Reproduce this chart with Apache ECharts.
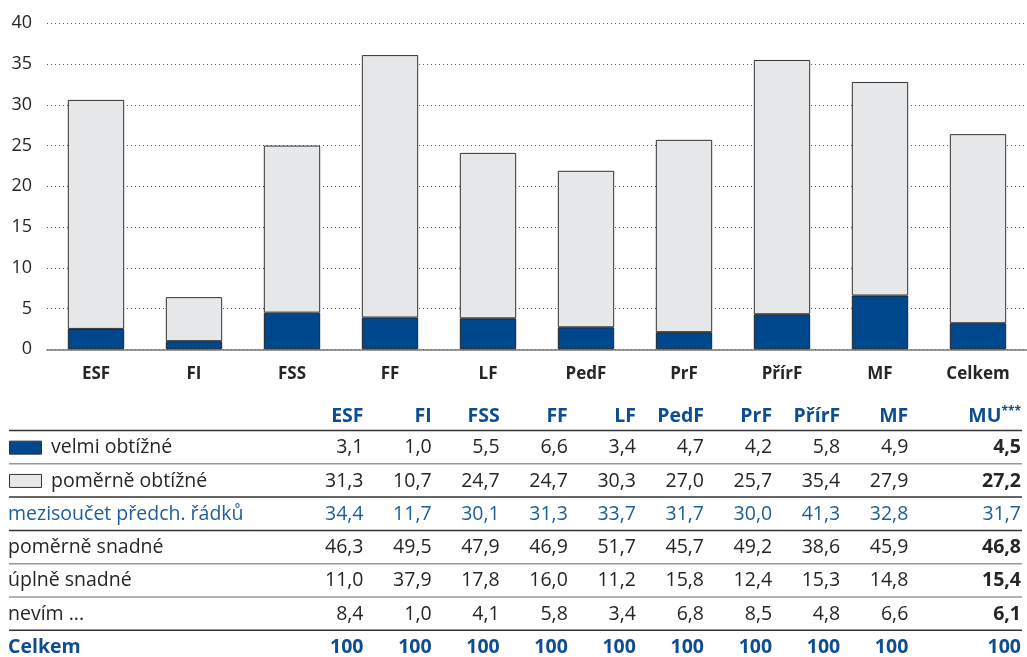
<!DOCTYPE html>
<html>
<head>
<meta charset="utf-8">
<script src="https://cdn.jsdelivr.net/npm/echarts@6/dist/echarts.min.js"></script>
<style>
  html, body { margin: 0; padding: 0; background: #fff; }
  #chart { width: 1027px; height: 657px; }
</style>
</head>
<body>
<div id="chart"></div>
<script>
// kategorie pod grafem
const categories = ['ESF', 'FI', 'FSS', 'FF', 'LF', 'PedF', 'PrF', 'PřírF', 'MF', 'Celkem'];
// hodnoty sloupcu
const velmiBars = [2.5, 1.0, 4.5, 3.9, 3.8, 2.7, 2.1, 4.3, 6.6, 3.2];
const pomerneBars = [28.1, 5.4, 20.5, 32.2, 20.3, 19.2, 23.6, 31.2, 26.2, 23.2];
const yTicks = [0, 5, 10, 15, 20, 25, 30, 35, 40];

// tabulka
const tableCols = ['ESF', 'FI', 'FSS', 'FF', 'LF', 'PedF', 'PrF', 'PřírF', 'MF', 'MU'];
const rowLabels = ['velmi obtížné', 'poměrně obtížné', 'mezisoučet předch. řádků', 'poměrně snadné', 'úplně snadné', 'nevím ...', 'Celkem'];
const velmi = [3.1, 1.0, 5.5, 6.6, 3.4, 4.7, 4.2, 5.8, 4.9, 4.5];
const pomerne = [31.3, 10.7, 24.7, 24.7, 30.3, 27.0, 25.7, 35.4, 27.9, 27.2];
const mezisoucet = [34.4, 11.7, 30.1, 31.3, 33.7, 31.7, 30.0, 41.3, 32.8, 31.7];
const snadne = [46.3, 49.5, 47.9, 46.9, 51.7, 45.7, 49.2, 38.6, 45.9, 46.8];
const uplne = [11.0, 37.9, 17.8, 16.0, 11.2, 15.8, 12.4, 15.3, 14.8, 15.4];
const nevim = [8.4, 1.0, 4.1, 5.8, 3.4, 6.8, 8.5, 4.8, 6.6, 6.1];
const celkem = [100, 100, 100, 100, 100, 100, 100, 100, 100, 100];

const FONT = '"Open Sans", sans-serif';
const TSIZE = 19.5;
const DARK_BLUE = '#00488e';
const LIGHT_GREY = '#e6e7e8';
const HEAD_BLUE = '#0d4d91';
const SUB_BLUE = '#1d5d9e';
const TEXT = '#262626';

const myChart = echarts.init(document.getElementById('chart'));

// sestaveni tabulky z grafickych prvku
const fmt = (v) => (Number.isInteger(v) && v === 100) ? '100' : v.toFixed(1).replace('.', ',');
const colRight = (i) => i < 9 ? 363.5 + 68.1 * i : 1021;
const rowTop = 430.5, rowH = 33.3;
const tableRows = [
  { label: rowLabels[0], vals: velmi, color: TEXT, swatch: DARK_BLUE, lastBold: true },
  { label: rowLabels[1], vals: pomerne, color: TEXT, swatch: LIGHT_GREY, lastBold: true },
  { label: rowLabels[2], vals: mezisoucet, color: SUB_BLUE, lastBold: false },
  { label: rowLabels[3], vals: snadne, color: TEXT, lastBold: true },
  { label: rowLabels[4], vals: uplne, color: TEXT, lastBold: true },
  { label: rowLabels[5], vals: nevim, color: TEXT, lastBold: true },
  { label: rowLabels[6], vals: celkem, color: HEAD_BLUE, allBold: true }
];
const lineColors = ['#333', '#999', '#333', '#333', '#999', '#999', '#333'];

let graphics = [];
// hlavicka
tableCols.forEach((c, i) => {
  graphics.push({
    type: 'text',
    style: {
      text: i === 9 ? '{a|MU}{s|***}' : c,
      x: colRight(i), y: 416,
      align: 'right', verticalAlign: 'middle',
      fill: HEAD_BLUE,
      font: 'bold ' + TSIZE + 'px ' + FONT,
      rich: {
        a: { fontFamily: FONT, fontWeight: 'bold', fontSize: TSIZE, fill: HEAD_BLUE },
        s: { fontFamily: FONT, fontWeight: 'bold', fontSize: 12, fill: HEAD_BLUE, padding: [0, 0, 8, 0] }
      }
    }
  });
});
tableRows.forEach((r, ri) => {
  let ly = rowTop + rowH * ri;
  graphics.push({
    type: 'line',
    shape: { x1: 9, y1: ly, x2: 1022, y2: ly },
    style: { stroke: lineColors[ri], lineWidth: 1.5 }
  });
  let cy = ly + rowH / 2 + 0.5;
  let tx = 8;
  if (r.swatch) {
    graphics.push({
      type: 'rect',
      shape: { x: 9.5, y: cy - 6.5, width: 32, height: 13 },
      style: { fill: r.swatch, stroke: '#333', lineWidth: 1 }
    });
    tx = 51;
  }
  graphics.push({
    type: 'text',
    style: {
      text: r.label, x: tx, y: cy,
      align: 'left', verticalAlign: 'middle',
      fill: r.color,
      font: (r.allBold ? 'bold ' : '') + TSIZE + 'px ' + FONT
    }
  });
  r.vals.forEach((v, i) => {
    let bold = r.allBold || (r.lastBold && i === 9);
    graphics.push({
      type: 'text',
      style: {
        text: fmt(v), x: colRight(i), y: cy,
        align: 'right', verticalAlign: 'middle',
        fill: r.color,
        font: (bold ? 'bold ' : '') + TSIZE + 'px ' + FONT
      }
    });
  });
});

let options = {
  animation: false,
  backgroundColor: '#fff',
  grid: {
    left: 47,
    top: 23.3,
    width: 990,
    height: 326
  },
  xAxis: {
    type: 'category',
    data: categories,
    axisTick: { show: false },
    axisLine: { lineStyle: { color: '#777', width: 1.5 } },
    axisLabel: {
      margin: 16,
      color: TEXT,
      fontFamily: FONT,
      fontWeight: 'bold',
      fontSize: 17
    }
  },
  yAxis: {
    type: 'value',
    min: yTicks[0],
    max: yTicks[yTicks.length - 1],
    interval: 5,
    axisLine: { show: false },
    axisTick: { show: false },
    axisLabel: {
      margin: 15,
      color: TEXT,
      fontFamily: FONT,
      fontSize: 18
    },
    splitLine: {
      lineStyle: { color: '#555', type: [1, 3], width: 1 }
    }
  },
  series: [
    {
      type: 'bar',
      name: 'velmi obtížné',
      stack: 'a',
      data: velmiBars,
      barWidth: '57.5%',
      itemStyle: { color: DARK_BLUE, borderColor: '#222', borderWidth: 1 }
    },
    {
      type: 'bar',
      name: 'poměrně obtížné',
      stack: 'a',
      data: pomerneBars,
      itemStyle: { color: LIGHT_GREY, borderColor: '#333', borderWidth: 1 }
    }
  ],
  graphic: graphics
};
myChart.setOption(options);
</script>
</body>
</html>
